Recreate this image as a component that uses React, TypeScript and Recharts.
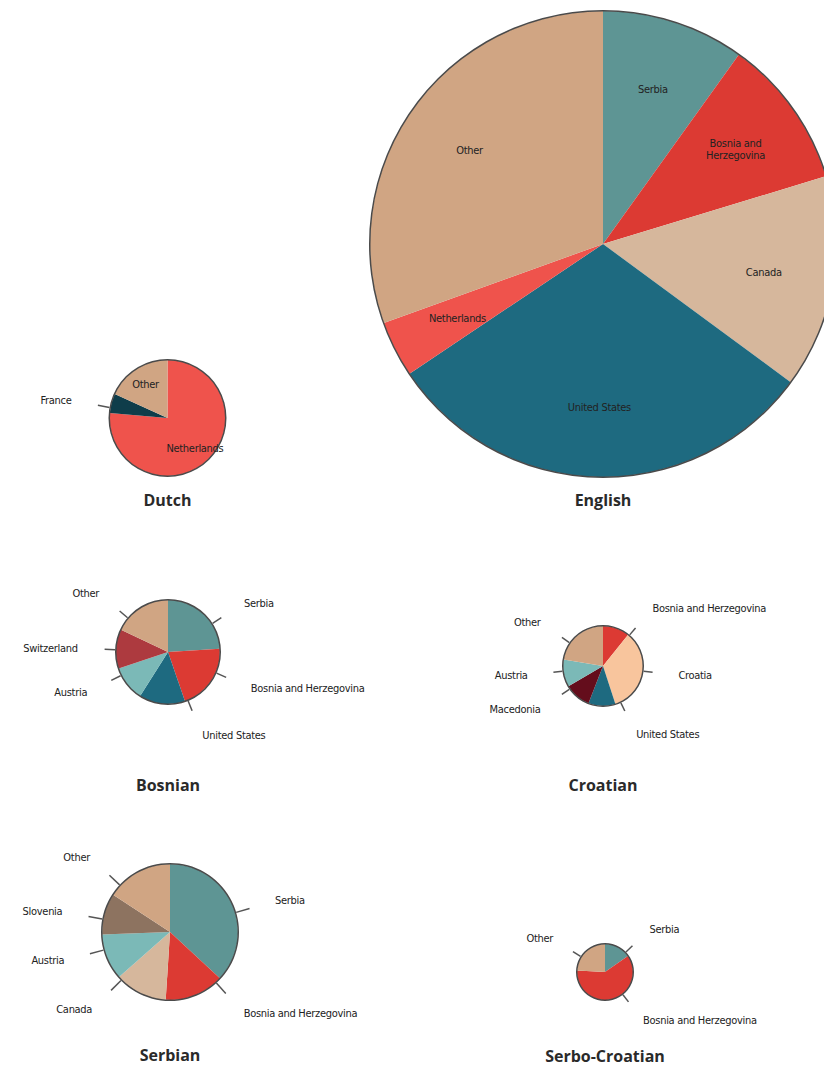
import { PieChart, Pie, Cell } from 'recharts'

// shares (%) by country of residence, per language, read clockwise from 12 o'clock
const dutchCountries = ['Netherlands', 'France', 'Other']
const dutchShares = [76.4, 5.4, 18.2]

const englishCountries = ['Serbia', 'Bosnia and Herzegovina', 'Canada', 'United States', 'Netherlands', 'Other']
const englishShares = [9.9, 10.4, 14.8, 30.5, 3.9, 30.5]

const bosnianCountries = ['Serbia', 'Bosnia and Herzegovina', 'United States', 'Austria', 'Switzerland', 'Other']
const bosnianShares = [24.0, 20.7, 14.3, 10.9, 12.1, 18.0]

const croatianCountries = ['Bosnia and Herzegovina', 'Croatia', 'United States', 'Macedonia', 'Austria', 'Other']
const croatianShares = [10.8, 34.2, 10.9, 10.7, 11.0, 22.4]

const serbianCountries = ['Serbia', 'Bosnia and Herzegovina', 'Canada', 'Austria', 'Slovenia', 'Other']
const serbianShares = [36.9, 14.1, 12.5, 10.9, 9.8, 15.8]

const serboCroatianCountries = ['Serbia', 'Bosnia and Herzegovina', 'Other']
const serboCroatianShares = [15.3, 60.5, 24.2]

const COLORS: Record<string, string> = {
  'Serbia': '#5e9594',
  'Bosnia and Herzegovina': '#dc3a33',
  'Canada': '#d6b79c',
  'United States': '#1e6a80',
  'Netherlands': '#ef534c',
  'Other': '#d0a583',
  'France': '#0f3d4a',
  'Austria': '#7bb9b7',
  'Switzerland': '#ad3a3f',
  'Croatia': '#f8c59d',
  'Macedonia': '#640d1c',
  'Slovenia': '#8d7360',
}

const LABEL_FONT = '"DejaVu Sans Condensed", "Liberation Sans Narrow", sans-serif'
const TEXT = '#222'

const toRows = (names: string[], values: number[]) => names.map((name, i) => ({ name, value: values[i] }))

function splitName(name: string) {
  if (name.length < 14) return [name]
  const mid = name.length / 2
  let best = -1
  for (let i = 0; i < name.length; i++) {
    if (name[i] === ' ' && (best < 0 || Math.abs(i - mid) < Math.abs(best - mid))) best = i
  }
  return best < 0 ? [name] : [name.slice(0, best), name.slice(best + 1)]
}

// label renderer: inside labels for big slices (when asked), otherwise a tick + outside text
function makeLabel(inside: boolean) {
  return (p: any) => {
    const { cx, cy, midAngle, outerRadius: r, percent, name, index } = p
    let theta = (90 - midAngle) % 360
    if (theta < 0) theta += 360
    const arc = percent * 2 * Math.PI * 0.65 * r

    if (inside && arc >= 20) {
      const rad = (theta * Math.PI) / 180
      const rr = r * 0.7
      const x = cx + Math.sin(rad) * rr
      const y = cy - Math.cos(rad) * rr
      const lines = splitName(name)
      return (
        <text key={`in-${index}`} x={x} y={y - (lines.length - 1) * 6} textAnchor="middle" dominantBaseline="central"
          fontSize={11} letterSpacing={-0.3} fontFamily={LABEL_FONT} fill={TEXT}>
          {lines.map((l, i) => (
            <tspan key={i} x={x} dy={i === 0 ? 0 : 12}>{l}</tspan>
          ))}
        </text>
      )
    }

    // labels are pulled toward the horizontal on their side
    const right = theta < 195
    const c = right ? 90 : 270
    const t2 = c + (theta - c) * 0.7
    const rad = (t2 * Math.PI) / 180
    const sx = Math.sin(rad)
    const sy = -Math.cos(rad)
    const r1 = r + 1
    const r2 = r + Math.max(10, r * 0.22)
    const rl = r * 1.2 + 28
    return (
      <g key={`out-${index}`}>
        <line x1={cx + sx * r1} y1={cy + sy * r1} x2={cx + sx * r2} y2={cy + sy * r2} stroke="#555" strokeWidth={1.5} />
        <text x={cx + sx * rl} y={cy + sy * rl} textAnchor={right ? 'start' : 'end'} dominantBaseline="central"
          fontSize={11} letterSpacing={-0.3} fontFamily={LABEL_FONT} fill={TEXT}>
          {name}
        </text>
      </g>
    )
  }
}

const pies = [
  { title: 'Dutch', data: toRows(dutchCountries, dutchShares), cx: 167.5, cy: 418, r: 58, inside: true, ty: 500 },
  { title: 'English', data: toRows(englishCountries, englishShares), cx: 603, cy: 244, r: 233, inside: true, ty: 500 },
  { title: 'Bosnian', data: toRows(bosnianCountries, bosnianShares), cx: 168, cy: 652, r: 52, inside: false, ty: 785 },
  { title: 'Croatian', data: toRows(croatianCountries, croatianShares), cx: 603, cy: 666, r: 40, inside: false, ty: 785 },
  { title: 'Serbian', data: toRows(serbianCountries, serbianShares), cx: 170, cy: 932, r: 68, inside: false, ty: 1055 },
  { title: 'Serbo-Croatian', data: toRows(serboCroatianCountries, serboCroatianShares), cx: 605, cy: 972, r: 28, inside: false, ty: 1056 },
]

const ring = [{ name: 'outline', value: 1 }]

export default function App() {
  return (
    <div style={{ position: 'absolute', left: 0, top: 0, width: 824, height: 1066, overflow: 'hidden', background: '#fff' }}>
      <PieChart width={824} height={1066} margin={{ top: 0, right: 0, bottom: 0, left: 0 }}>
        {pies.map(pc => (
          <Pie
            key={pc.title}
            data={pc.data}
            dataKey="value"
            nameKey="name"
            cx={pc.cx}
            cy={pc.cy}
            outerRadius={pc.r}
            startAngle={90}
            endAngle={-270}
            stroke="none"
            label={makeLabel(pc.inside)}
            labelLine={false}
            isAnimationActive={false}
          >
            {pc.data.map(d => (
              <Cell key={d.name} fill={COLORS[d.name]} />
            ))}
          </Pie>
        ))}
        {pies.map(pc => (
          <Pie
            key={pc.title + '-ring'}
            data={ring}
            dataKey="value"
            cx={pc.cx}
            cy={pc.cy}
            innerRadius={pc.r - 0.5}
            outerRadius={pc.r + 1}
            startAngle={90}
            endAngle={-270}
            fill="#4a4a4a"
            stroke="none"
            isAnimationActive={false}
          />
        ))}
      </PieChart>
      {pies.map(pc => (
        <div
          key={pc.title + '-t'}
          style={{
            position: 'absolute', left: pc.cx - 100, width: 200, top: pc.ty - 11, lineHeight: '22px',
            textAlign: 'center', fontFamily: '"Open Sans", sans-serif', fontWeight: 700, fontSize: 16, color: '#2a2a2a',
          }}
        >
          {pc.title}
        </div>
      ))}
    </div>
  )
}
